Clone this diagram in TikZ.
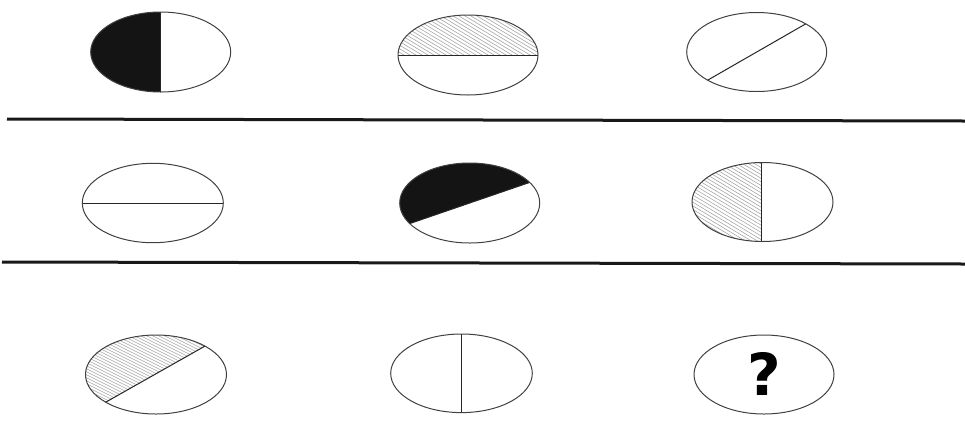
\documentclass[tikz,border=0pt]{standalone}
\usepackage{fontspec}
\newfontfamily\qfont{DejaVu Sans}
\usetikzlibrary{calc}
\begin{document}
\begin{tikzpicture}[x=1pt,y=-1pt,
  oval/.style={draw=black!75, line width=1pt},
  divider/.style={draw=black!85, line width=1pt},
  sep/.style={draw=black!90, line width=3pt},
  hatch/.style={draw=black!35, line width=0.6pt},
  solid fill/.style={fill=black!92}]
\useasboundingbox (0,0) rectangle (965,432);
% centres
\coordinate (e1) at (160.7,52);
\coordinate (e2) at (468,55);
\coordinate (e3) at (756.7,52);
\coordinate (e4) at (152.8,203);
\coordinate (e5) at (469.7,203);
\coordinate (e6) at (762.5,202);
\coordinate (e7) at (156,374.5);
\coordinate (e8) at (461.5,373.3);
\coordinate (e9) at (764,374.5);
% separators
\coordinate (s1a) at (7,119);   \coordinate (s1b) at (965,121);
\coordinate (s2a) at (2,262);   \coordinate (s2b) at (965,264);
\draw[sep] (s1a) -- (s1b);
\draw[sep] (s2a) -- (s2b);
% ---- ellipse 1: left half black
\begin{scope}
  \clip (e1) ellipse [x radius=70pt, y radius=40pt];
  \fill[solid fill] ($(e1)+(-80,-50)$) rectangle ($(e1)+(0,50)$);
\end{scope}
\draw[divider] ($(e1)+(90:70pt and 40pt)$) -- ($(e1)+(270:70pt and 40pt)$);
\draw[oval] (e1) ellipse [x radius=70pt, y radius=40pt];
% ---- ellipse 2: top half hatched
\begin{scope}
  \clip (e2) ellipse [x radius=70pt, y radius=40pt];
  \clip ($(e2)+(-80,-50)$) rectangle ($(e2)+(80,0)$);
  \foreach \i in {-220,-214,...,220}
    \draw[hatch] ($(e2)+(\i-100,-60)$) -- ++(200,120);
\end{scope}
\draw[divider] ($(e2)+(180:70pt and 40pt)$) -- ($(e2)+(0:70pt and 40pt)$);
\draw[oval] (e2) ellipse [x radius=70pt, y radius=40pt];
% ---- ellipse 3: diagonal line
\draw[divider] ($(e3)+(225.5:70pt and 39.5pt)$) -- ($(e3)+(45.5:70pt and 39.5pt)$);
\draw[oval] (e3) ellipse [x radius=70pt, y radius=39.5pt];
% ---- ellipse 4: horizontal line
\draw[divider] ($(e4)+(180:70.5pt and 39.7pt)$) -- ($(e4)+(0:70.5pt and 39.7pt)$);
\draw[oval] (e4) ellipse [x radius=70.5pt, y radius=39.7pt];
% ---- ellipse 5: upper part black
\begin{scope}
  \clip (e5) ellipse [x radius=70pt, y radius=40pt];
  \fill[solid fill] ($(e5)+(211:70pt and 40pt)$) -- ($(e5)+(31:70pt and 40pt)$)
     -- ($(e5)+(31:140pt and 80pt)$) -- ($(e5)+(76:140pt and 80pt)$)
     -- ($(e5)+(121:140pt and 80pt)$) -- ($(e5)+(166:140pt and 80pt)$)
     -- ($(e5)+(211:140pt and 80pt)$) -- cycle;
\end{scope}
\draw[divider] ($(e5)+(211:70pt and 40pt)$) -- ($(e5)+(31:70pt and 40pt)$);
\draw[oval] (e5) ellipse [x radius=70pt, y radius=40pt];
% ---- ellipse 6: left half hatched
\begin{scope}
  \clip (e6) ellipse [x radius=70.5pt, y radius=39.5pt];
  \clip ($(e6)+(-80,-50)$) rectangle ($(e6)+(-0.5,50)$);
  \foreach \i in {-220,-214,...,220}
    \draw[hatch] ($(e6)+(\i-100,-60)$) -- ++(200,120);
\end{scope}
\draw[divider] ($(e6)+(-0.8,-39.5)$) -- ($(e6)+(-0.8,39.5)$);
\draw[oval] (e6) ellipse [x radius=70.5pt, y radius=39.5pt];
% ---- ellipse 7: upper-left part hatched
\begin{scope}
  \clip (e7) ellipse [x radius=70.5pt, y radius=39.5pt];
  \clip ($(e7)+(224.5:70.5pt and 39.5pt)$) -- ($(e7)+(46:70.5pt and 39.5pt)$)
     -- ($(e7)+(46:141pt and 79pt)$) -- ($(e7)+(90:141pt and 79pt)$)
     -- ($(e7)+(135:141pt and 79pt)$) -- ($(e7)+(180:141pt and 79pt)$)
     -- ($(e7)+(224.5:141pt and 79pt)$) -- cycle;
  \foreach \i in {-220,-214,...,220}
    \draw[hatch] ($(e7)+(\i-100,-50)$) -- ++(200,100);
\end{scope}
\draw[divider] ($(e7)+(224.5:70.5pt and 39.5pt)$) -- ($(e7)+(46:70.5pt and 39.5pt)$);
\draw[oval] (e7) ellipse [x radius=70.5pt, y radius=39.5pt];
% ---- ellipse 8: vertical line
\draw[divider] ($(e8)+(90:70.8pt and 39.3pt)$) -- ($(e8)+(270:70.8pt and 39.3pt)$);
\draw[oval] (e8) ellipse [x radius=70.8pt, y radius=39.3pt];
% ---- ellipse 9: question mark
\draw[oval] (e9) ellipse [x radius=70pt, y radius=39.5pt];
\node[font=\qfont\bfseries\fontsize{58}{58}\selectfont, inner sep=0pt] (q) at (764,374) {?};
\end{tikzpicture}
\end{document}
